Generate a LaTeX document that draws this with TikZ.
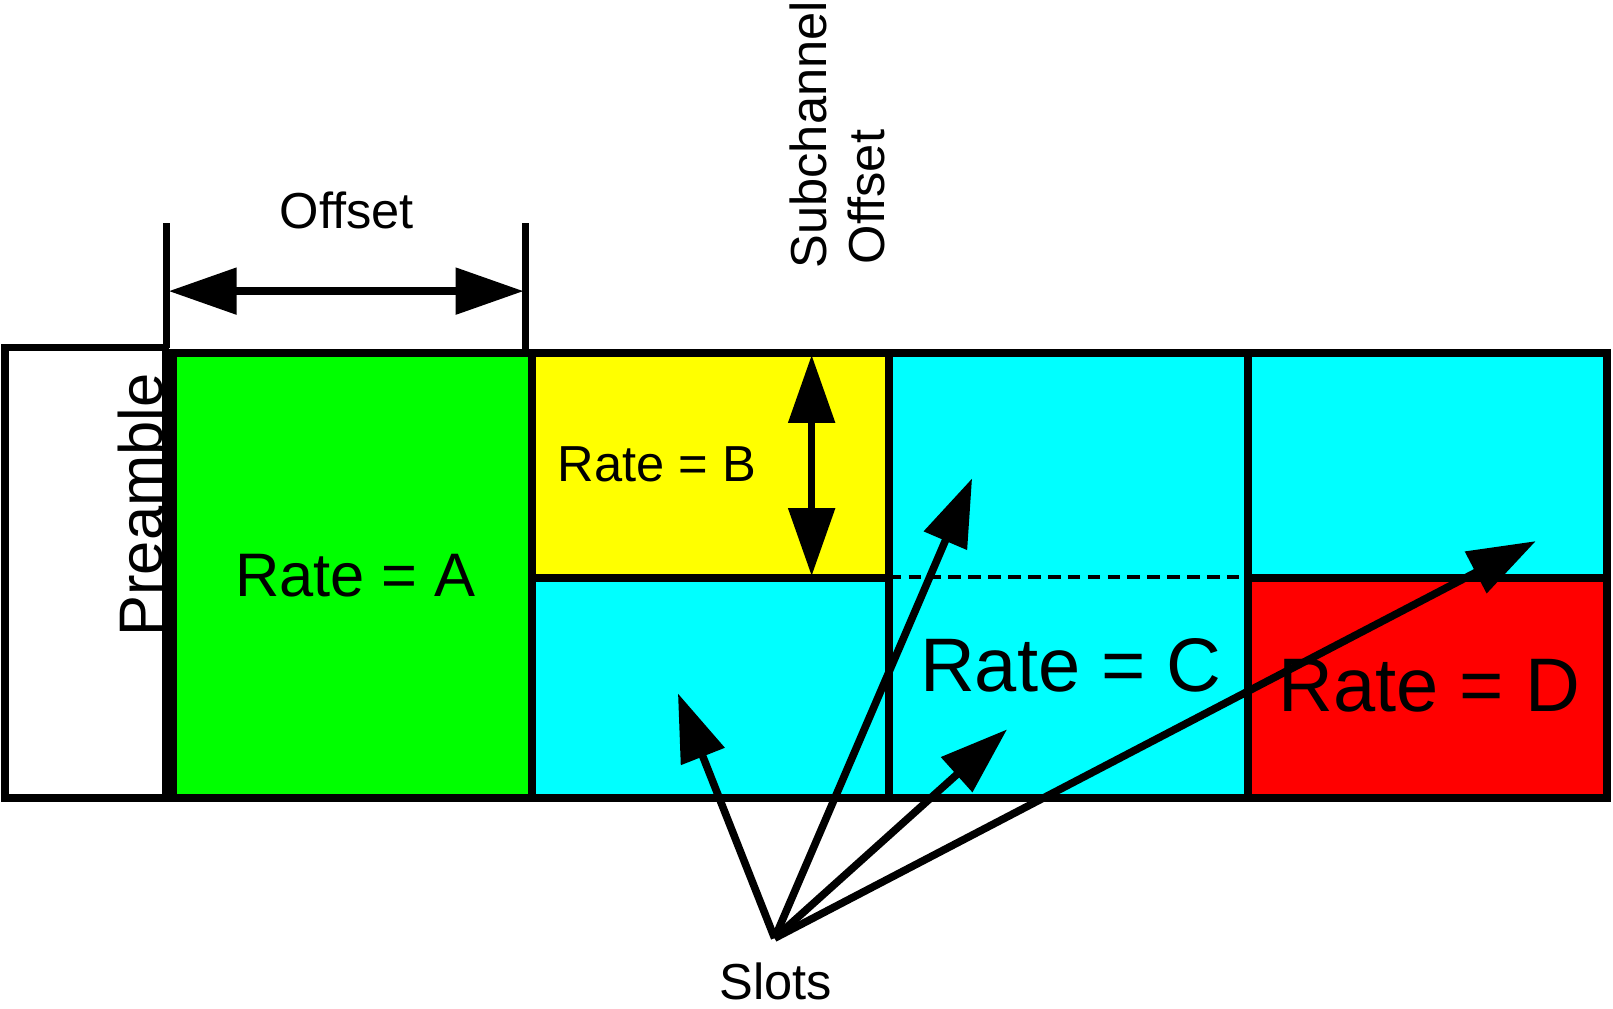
\documentclass[tikz,border=0pt]{standalone}
\usepackage{fontspec}
\setmainfont{Liberation Sans}
\usetikzlibrary{arrows.meta}
\definecolor{cGreen}{RGB}{0,255,0}
\definecolor{cYellow}{RGB}{255,255,0}
\definecolor{cCyan}{RGB}{0,255,255}
\definecolor{cRed}{RGB}{255,0,0}
\begin{document}
\begin{tikzpicture}[x=0.02cm,y=-0.02cm,
  ln/.style={draw=black,line width=4.2pt},
  dashln/.style={draw=black,line width=2pt,dash pattern=on 7pt off 4pt},
  lbl/.style={inner sep=0pt,anchor=base,font=\fontsize{28}{32}\selectfont},
  big/.style={inner sep=0pt,anchor=base,font=\fontsize{34}{40}\selectfont},
  huge/.style={inner sep=0pt,anchor=base,font=\fontsize{42}{48}\selectfont},
  tri/.tip={Triangle[length=1.32cm,width=0.88cm]},
  arr/.style={line width=4.2pt,-tri},
  darr/.style={line width=4.2pt,tri-tri},
]
\useasboundingbox (0,0) rectangle (1568,980);
% fills
\fill[cGreen]  (167,343) rectangle (517,776);
\fill[cYellow] (517,343) rectangle (864,562);
\fill[cCyan]   (517,562) rectangle (864,776);
\fill[cCyan]   (864,343) rectangle (1562,776);
\fill[cRed]    (1213,562) rectangle (1562,776);
% preamble box
\draw[ln] (5,338) rectangle (161,776);
% grid
\draw[ln] (168,343) rectangle (1562,776);
\draw[ln] (517,343) -- (517,776);
\draw[ln] (864,343) -- (864,780);
\draw[ln] (1213,343) -- (1213,776);
\draw[ln] (517,562) -- (864,562);
\draw[ln] (1213,562) -- (1562,562);
\draw[dashln] (864,561) -- (1213,561);
% offset dimension
\coordinate (tickLtop) at (162,217);
\coordinate (tickLbot) at (162,338);
\coordinate (tickRtop) at (511,217);
\coordinate (tickRbot) at (511,343);
\draw[ln] (tickLtop) -- (tickLbot);
\draw[ln] (tickRtop) -- (tickRbot);
\coordinate (offL) at (164,283);
\coordinate (offR) at (509,283);
\draw[darr] (offL) -- (offR);
\node[lbl] (offsetlbl) at (337,222) {Offset};
% subchannel offset
\coordinate (scTop) at (789,345);
\coordinate (scBot) at (789,560);
\draw[darr] (scTop) -- (scBot);
\node[lbl,rotate=90] (subch) at (803,131) {Subchannel};
\node[lbl,rotate=90] (suboff) at (860,191.5) {Offset};
% labels
\node[big,rotate=90] (pre) at (158,491) {Preamble};
\node[big] (rateA) at (345.5,580) {Rate = A};
\node[lbl] (rateB) at (638.5,468) {Rate = B};
\node[huge] (rateC) at (1041,672) {Rate = C};
\node[huge] (rateD) at (1389.5,692) {Rate = D};
% slots
\node[lbl] (slots) at (754,972) {Slots};
\coordinate (so) at (753,912);
\coordinate (s1) at (659,674);
\coordinate (s2) at (945,465);
\coordinate (s3) at (979,709);
\coordinate (s4) at (1493,526);
\draw[arr] (so) -- (s1);
\draw[arr] (so) -- (s2);
\draw[arr] (so) -- (s3);
\draw[arr] (so) -- (s4);
\end{tikzpicture}
\end{document}
